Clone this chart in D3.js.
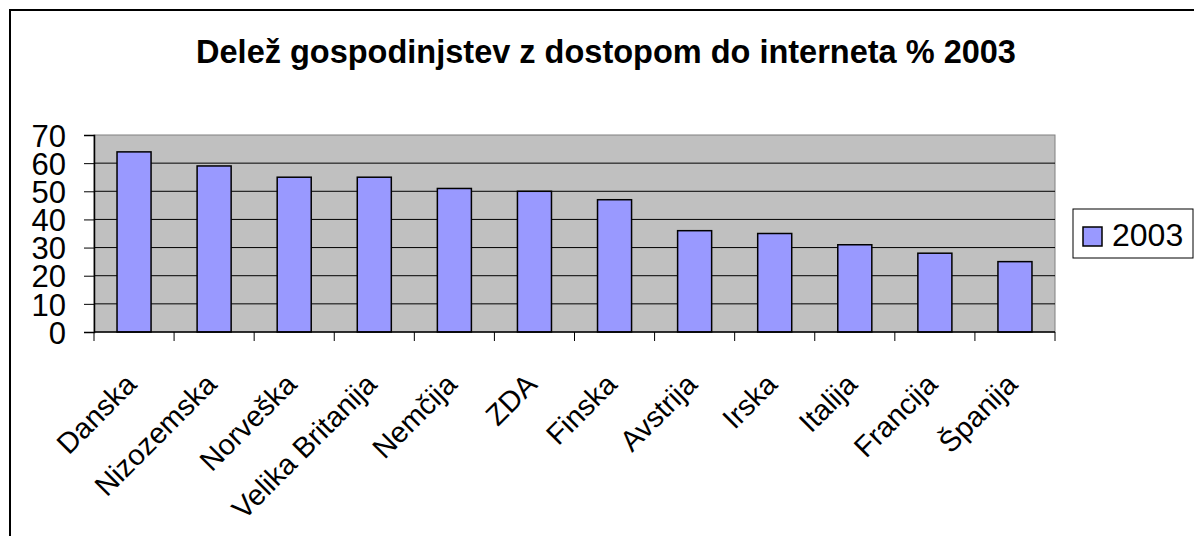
<!DOCTYPE html>
<html>
<head>
<meta charset="utf-8">
<script src="https://cdn.jsdelivr.net/npm/d3@7"></script>
<style>
    html, body { margin: 0; padding: 0; background: #ffffff; overflow: hidden; }
    svg { display: block; font-family: "Liberation Sans", Arial, sans-serif; }
</style>
</head>
<body>
<div id="chart-container"></div>
<script>
// DATA
// ----------------------------------------
const COUNTRIES = ["Danska", "Nizozemska", "Norveška", "Velika Britanija", "Nemčija", "ZDA",
    "Finska", "Avstrija", "Irska", "Italija", "Francija", "Španija"];
const VALUES_2003 = [64, 59, 55, 55, 51, 50, 47, 36, 35, 31, 28, 25];
const Y_TICKS = [0, 10, 20, 30, 40, 50, 60, 70];
const SERIES_NAME = "2003";
const TITLE = "Delež gospodinjstev z dostopom do interneta % 2003";

// LAYOUT VARIABLES
// ----------------------------------------
const WIDTH = 1194;
const HEIGHT = 536;
const PLOT = { left: 94, right: 1055, top: 135, bottom: 332 };
const BAR_COLOR = "#9999ff";
const PLOT_BG = "#c0c0c0";

// MAIN FUNCTION
// ----------------------------------------
function drawChart() {
    const svg = d3.select("#chart-container")
        .append("svg")
        .attr("width", WIDTH)
        .attr("height", HEIGHT);

    // Outer chart border (runs past the right and bottom edges)
    svg.append("rect")
        .attr("x", 10)
        .attr("y", 10)
        .attr("width", 1192)
        .attr("height", 540)
        .attr("fill", "#ffffff")
        .attr("stroke", "#000000")
        .attr("stroke-width", 2);

    // Title
    svg.append("text")
        .attr("x", 606)
        .attr("y", 63)
        .attr("text-anchor", "middle")
        .attr("font-size", 32.5)
        .attr("font-weight", "bold")
        .text(TITLE);

    const xScale = d3.scaleBand()
        .domain(COUNTRIES)
        .range([PLOT.left, PLOT.right])
        .paddingInner(0.575)
        .paddingOuter(0.2875);

    const yScale = d3.scaleLinear()
        .domain([0, 70])
        .range([PLOT.bottom, PLOT.top]);

    // Plot background
    svg.append("rect")
        .attr("x", PLOT.left)
        .attr("y", PLOT.top)
        .attr("width", PLOT.right - PLOT.left)
        .attr("height", PLOT.bottom - PLOT.top)
        .attr("fill", PLOT_BG)
        .attr("stroke", "#808080")
        .attr("stroke-width", 1);

    // Gridlines
    svg.append("g")
        .selectAll("line")
        .data(Y_TICKS.filter(d => d > 0 && d < 70))
        .enter().append("line")
        .attr("x1", PLOT.left)
        .attr("x2", PLOT.right)
        .attr("y1", d => yScale(d))
        .attr("y2", d => yScale(d))
        .attr("stroke", "#000000")
        .attr("stroke-width", 1);

    // Bars
    svg.append("g")
        .selectAll("rect")
        .data(VALUES_2003)
        .enter().append("rect")
        .attr("x", (d, i) => xScale(COUNTRIES[i]))
        .attr("y", d => yScale(d))
        .attr("width", xScale.bandwidth())
        .attr("height", d => yScale(0) - yScale(d))
        .attr("fill", BAR_COLOR)
        .attr("stroke", "#000000")
        .attr("stroke-width", 1.5);

    // Y axis
    const yAxis = d3.axisLeft(yScale)
        .tickValues(Y_TICKS)
        .tickSize(10)
        .tickPadding(18);

    svg.append("g")
        .attr("transform", `translate(${PLOT.left}, 0)`)
        .call(yAxis)
        .call(g => g.select(".domain").attr("stroke", "#000000").attr("stroke-width", 1.5))
        .call(g => g.selectAll(".tick line").attr("stroke", "#000000"))
        .call(g => g.selectAll(".tick text")
            .attr("font-size", 31)
            .attr("font-family", "Liberation Sans, Arial, sans-serif")
            .attr("fill", "#000000")
            .attr("dy", "0.36em"));

    // X axis: ticks sit on category boundaries
    const boundaries = COUNTRIES.map(c => xScale(c) - xScale.step() * xScale.paddingInner() / 2)
        .concat([PLOT.right]);

    svg.append("line")
        .attr("x1", PLOT.left)
        .attr("x2", PLOT.right)
        .attr("y1", PLOT.bottom)
        .attr("y2", PLOT.bottom)
        .attr("stroke", "#000000")
        .attr("stroke-width", 1.5);

    svg.append("g")
        .selectAll("line")
        .data(boundaries)
        .enter().append("line")
        .attr("x1", d => d)
        .attr("x2", d => d)
        .attr("y1", PLOT.bottom)
        .attr("y2", PLOT.bottom + 9)
        .attr("stroke", "#000000")
        .attr("stroke-width", 1);

    // Rotated category labels
    svg.append("g")
        .selectAll("text")
        .data(COUNTRIES)
        .enter().append("text")
        .attr("transform", d => `translate(${xScale(d) + xScale.bandwidth() / 2 - 3}, 379) rotate(-45)`)
        .attr("text-anchor", "end")
        .attr("dy", "0.35em")
        .attr("font-size", 29)
        .text(d => d);

    drawLegend(svg);
};

// HELPER FUNCTIONS
// ----------------------------------------
function drawLegend(svg) {
    const legend = svg.append("g");

    legend.append("rect")
        .attr("x", 1073)
        .attr("y", 209)
        .attr("width", 120)
        .attr("height", 49)
        .attr("fill", "#ffffff")
        .attr("stroke", "#000000")
        .attr("stroke-width", 1);

    legend.append("rect")
        .attr("x", 1083)
        .attr("y", 227)
        .attr("width", 19)
        .attr("height", 19)
        .attr("fill", BAR_COLOR)
        .attr("stroke", "#000000")
        .attr("stroke-width", 1.5);

    legend.append("text")
        .attr("x", 1112)
        .attr("y", 246)
        .attr("font-size", 32)
        .text(SERIES_NAME);
};

// INIT
// ----------------------------------------
drawChart();
</script>
</body>
</html>
